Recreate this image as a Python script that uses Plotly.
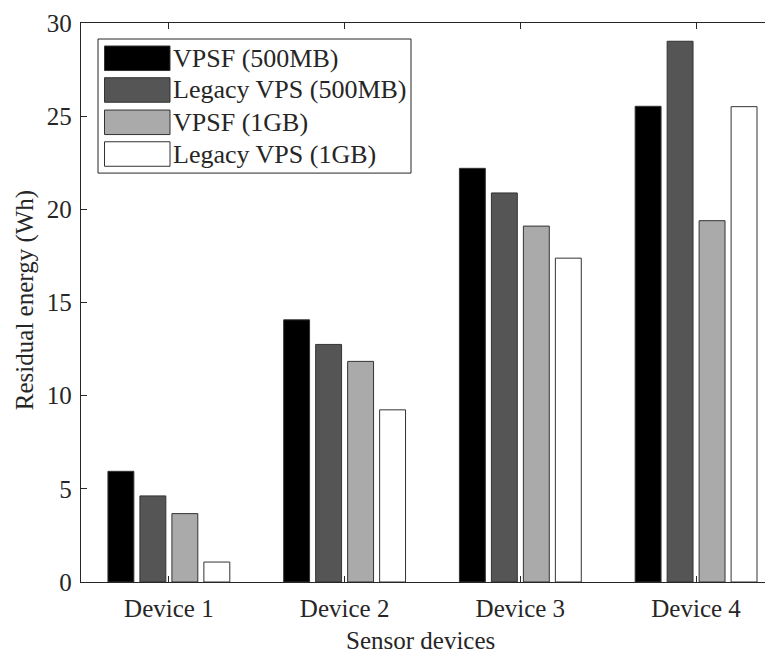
import plotly.graph_objects as go

devices = ["Device 1", "Device 2", "Device 3", "Device 4"]
series_names = ["VPSF (500MB)", "Legacy VPS (500MB)", "VPSF (1GB)", "Legacy VPS (1GB)"]
vpsf_500 = [5.94, 14.07, 22.2, 25.53]
legacy_500 = [4.62, 12.75, 20.88, 29.02]
vpsf_1g = [3.67, 11.84, 19.1, 19.39]
legacy_1g = [1.07, 9.24, 17.38, 25.51]
y_ticks = [0, 5, 10, 15, 20, 25, 30]
colors = ["#000000", "#555555", "#AAAAAA", "#FFFFFF"]
x_title = "Sensor devices"
y_title = "Residual energy (Wh)"

series = [vpsf_500, legacy_500, vpsf_1g, legacy_1g]

OFF = 8  # page body margin
W, H = 773 - OFF, 653 - OFF
# plot area in page pixels: left 81, top 23, bottom 581.7, right runs to page edge
L, T = 81 - OFF, 23 - OFF
B = H - (581.7 - OFF)
R = 0
FONT = "Liberation Serif, Times New Roman, serif"
TXT = "#262626"

fig = go.Figure()
for name, vals, col in zip(series_names, series, colors):
    fig.add_trace(go.Bar(
        x=devices, y=vals, name=name,
        marker=dict(color=col, line=dict(color="#333333", width=1)),
        showlegend=False,
    ))

pw, ph = W - L - R, H - T - B
def px(x):  # page pixel -> paper
    return (x - OFF - L) / pw
def py(y):
    return (H - B - (y - OFF)) / ph

# custom legend (MATLAB style, large swatches)
shapes = [dict(type="rect", xref="paper", yref="paper",
               x0=px(98), x1=px(411), y0=py(173), y1=py(39),
               line=dict(color=TXT, width=1), fillcolor="white", layer="above")]
annotations = []
row_tops = [46, 77.7, 110, 141.7]
for i, (name, col) in enumerate(zip(series_names, colors)):
    y0 = row_tops[i]
    y1 = y0 + 24.5
    shapes.append(dict(type="rect", xref="paper", yref="paper",
                       x0=px(104.5), x1=px(170), y0=py(y1), y1=py(y0),
                       line=dict(color="#333333", width=1), fillcolor=col, layer="above"))
    annotations.append(dict(xref="paper", yref="paper", x=px(171), y=py((y0 + y1) / 2),
                            text=name, showarrow=False, xanchor="left", yanchor="middle",
                            font=dict(family=FONT, size=26, color=TXT)))

# axis titles
annotations.append(dict(xref="paper", yref="paper", x=px(420), y=py(640),
                        text=x_title, showarrow=False, xanchor="center", yanchor="middle",
                        font=dict(family=FONT, size=25, color=TXT)))
annotations.append(dict(xref="paper", yref="paper", x=px(25), y=py(300),
                        text=y_title, showarrow=False, xanchor="center", yanchor="middle",
                        textangle=-90, font=dict(family=FONT, size=25, color=TXT)))

fig.update_layout(
    width=W, height=H,
    margin=dict(l=L, r=R, t=T, b=B, pad=0, autoexpand=False),
    paper_bgcolor="white", plot_bgcolor="white",
    barmode="group", bargap=0.272, bargroupgap=0.19,
    font=dict(family=FONT, size=25, color=TXT),
    shapes=shapes, annotations=annotations,
    xaxis=dict(
        type="category", range=[-0.5, 3.4377], automargin=False,
        showline=True, linecolor=TXT, linewidth=1.3, mirror="ticks",
        ticks="inside", ticklen=6, tickwidth=1, tickcolor=TXT,
        showgrid=False, zeroline=False,
        tickfont=dict(family=FONT, size=25, color=TXT),
        ticklabelstandoff=4,
    ),
    yaxis=dict(
        range=[0, 30], tickvals=y_ticks, automargin=False,
        showline=True, linecolor=TXT, linewidth=1.3, mirror=False,
        ticks="inside", ticklen=6, tickwidth=1, tickcolor=TXT,
        showgrid=False, zeroline=False,
        tickfont=dict(family=FONT, size=25, color=TXT),
        ticklabelstandoff=3,
    ),
)

fig.write_html("out.html")
